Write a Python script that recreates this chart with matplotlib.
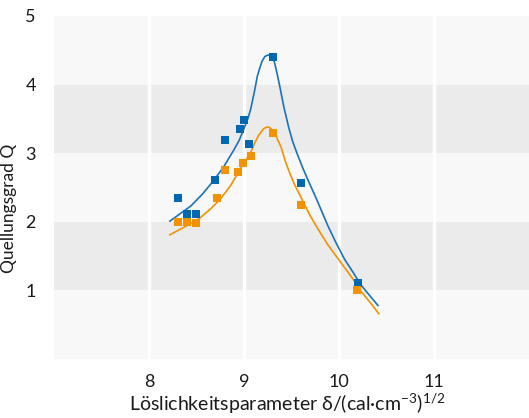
import matplotlib
matplotlib.use("Agg")
import matplotlib.pyplot as plt

# measured points
blue_x = [8.3, 8.4, 8.5, 8.7, 8.8, 8.96, 9.0, 9.05, 9.3, 9.6, 10.2]
blue_y = [2.35, 2.12, 2.12, 2.61, 3.19, 3.35, 3.48, 3.13, 4.40, 2.56, 1.11]
orange_x = [8.31, 8.4, 8.5, 8.72, 8.8, 8.94, 8.99, 9.07, 9.3, 9.6, 10.19]
orange_y = [2.0, 2.0, 1.98, 2.34, 2.76, 2.72, 2.86, 2.96, 3.29, 2.25, 1.0]

# fitted curves
blue_cx = [8.22, 8.33, 8.44, 8.56, 8.68, 8.79, 8.89, 8.95, 9.00, 9.04, 9.07, 9.11, 9.14, 9.17, 9.19, 9.22,
           9.25, 9.28, 9.30, 9.32, 9.35, 9.38, 9.42, 9.47, 9.51, 9.56, 9.62, 9.67, 9.77, 9.88, 9.97,
           10.06, 10.15, 10.23, 10.32, 10.41]
blue_cy = [2.01, 2.12, 2.23, 2.40, 2.60, 2.81, 3.04, 3.19, 3.36, 3.50, 3.64, 3.90, 4.12, 4.26, 4.34, 4.41,
           4.43, 4.43, 4.40, 4.33, 4.15, 3.95, 3.67, 3.38, 3.18, 2.99, 2.78, 2.62, 2.31, 1.95, 1.69,
           1.45, 1.26, 1.08, 0.93, 0.78]
orange_cx = [8.22, 8.38, 8.54, 8.65, 8.75, 8.86, 8.96, 9.02, 9.07, 9.11, 9.15, 9.18, 9.21, 9.24, 9.26,
             9.29, 9.33, 9.36, 9.39, 9.44, 9.49, 9.53, 9.62, 9.70, 9.79, 9.88, 9.97, 10.06, 10.15, 10.23,
             10.33, 10.42]
orange_cy = [1.81, 1.93, 2.06, 2.19, 2.33, 2.53, 2.77, 2.90, 3.01, 3.14, 3.25, 3.31, 3.36, 3.38, 3.38,
             3.35, 3.27, 3.18, 3.09, 2.86, 2.68, 2.55, 2.30, 2.08, 1.87, 1.67, 1.50, 1.33, 1.16, 0.99,
             0.82, 0.66]

x_ticks = [8, 9, 10, 11]
y_ticks = [1, 2, 3, 4, 5]

BLUE = "#0067b1"
BLUE_LINE = "#1a72bb"
ORANGE = "#f39200"
TEXT = "#1a1a1a"

plt.rcParams["font.family"] = ["Lato", "DejaVu Sans"]
plt.rcParams["mathtext.fontset"] = "custom"
plt.rcParams["mathtext.rm"] = "Lato"
plt.rcParams["mathtext.it"] = "Lato:italic"
plt.rcParams["mathtext.bf"] = "Lato:bold"

fig = plt.figure(figsize=(5.29, 4.18), dpi=100)
ax = fig.add_axes([54 / 529, 1 - 359 / 418, 1 - 54 / 529, (359 - 16) / 418])
ax.set_xlim(7, 12)
ax.set_ylim(0, 5)

# alternating horizontal bands
for lo in range(5):
    ax.axhspan(lo, lo + 1, color="#ebebeb" if lo in (1, 3) else "#f8f8f8", lw=0, zorder=0)
for xv in x_ticks:
    ax.axvline(xv, color="white", lw=2.5, zorder=1)

ax.plot(blue_cx, blue_cy, color=BLUE_LINE, lw=1.2, zorder=2)
ax.plot(orange_cx, orange_cy, color=ORANGE, lw=1.2, zorder=2)
ax.plot(blue_x, blue_y, "s", color=BLUE, ms=5.5, mew=0, zorder=3)
ax.plot(orange_x, orange_y, "s", color=ORANGE, ms=5.5, mew=0, zorder=3)

ax.set_xticks(x_ticks)
ax.set_yticks(y_ticks)
ax.tick_params(length=0, labelsize=13, colors=TEXT, pad=11)
ax.tick_params(axis="y", pad=13)
for s in ax.spines.values():
    s.set_visible(False)

ax.set_xlabel("Löslichkeitsparameter δ/(cal·cm$^{-3}$)$^{1/2}$", fontsize=14, color=TEXT)
ax.set_ylabel("Quellungsgrad Q", fontsize=12.5, color=TEXT)
ax.xaxis.set_label_coords(0.49, -0.095)
ax.yaxis.set_label_coords(-0.078, 0.44)

fig.savefig("out.png", dpi=100)
